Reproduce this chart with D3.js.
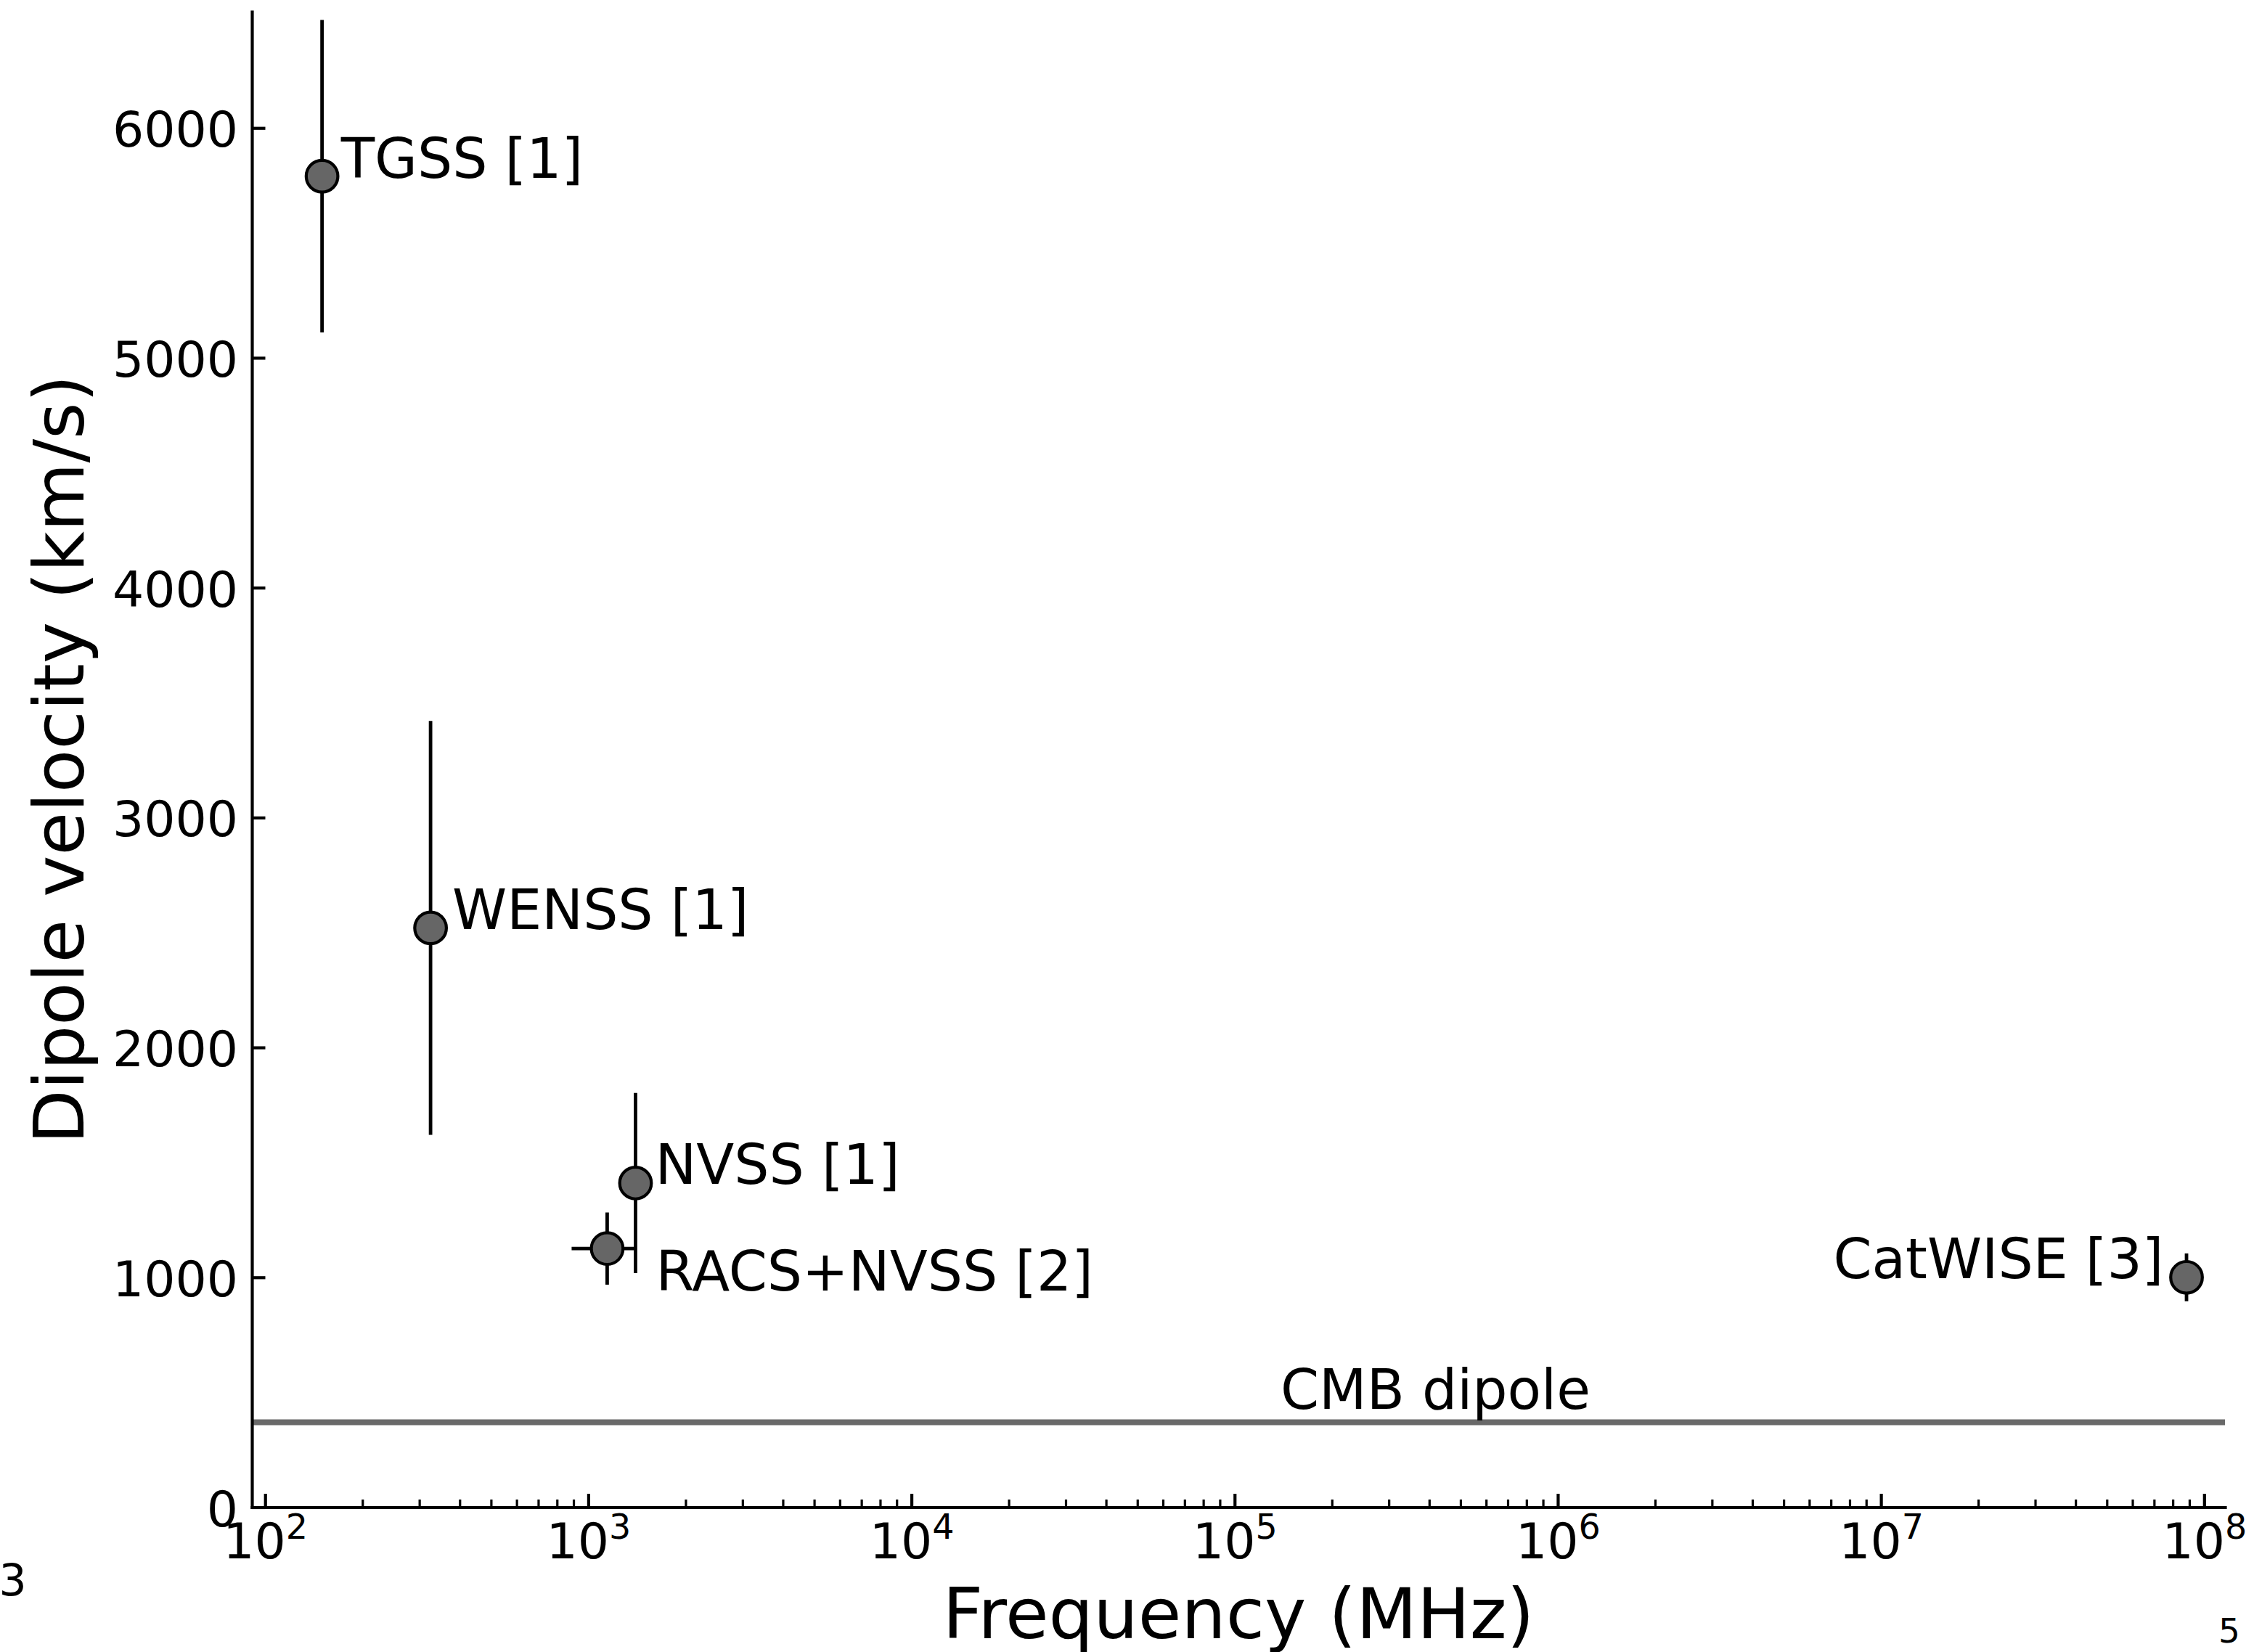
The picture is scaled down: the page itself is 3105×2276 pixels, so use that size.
<!DOCTYPE html>
<html>
<head>
<meta charset="utf-8">
<script src="https://cdn.jsdelivr.net/npm/d3@7"></script>
<style>
  body { margin: 0; background: #ffffff; }
  text { font-family: "DejaVu Sans", sans-serif; fill: #000000; }
</style>
</head>
<body>
<div id="chart"></div>
<script>
// Data
var surveyLabels = ["TGSS [1]", "WENSS [1]", "NVSS [1]", "RACS+NVSS [2]", "CatWISE [3]"];
var frequency = [150, 325, 1400, 1144, 8.82e7];      // MHz
var frequencyErr = [0, 0, 0, 256, 0];                 // MHz
var velocity = [5790, 2520, 1410, 1125, 1000];        // km/s
var velocityErr = [680, 900, 392, 157, 104];          // km/s
var cmbVelocity = 369.8;
var cmbLabel = "CMB dipole";

var xLimits = [91, 1.16e8];
var yLimits = [0, 6506];
var xTickExponents = [2, 3, 4, 5, 6, 7, 8];
var yTickValues = [0, 1000, 2000, 3000, 4000, 5000, 6000];

var svgWidth = 3105;
var svgHeight = 2276;

// axes frame in page pixels
var frame = { left: 347, right: 3065, top: 16, bottom: 2076.5 };

var svg = d3.select("#chart")
    .append("svg")
    .attr("width", svgWidth)
    .attr("height", svgHeight);

svg.append("rect")
    .attr("width", svgWidth)
    .attr("height", svgHeight)
    .attr("fill", "#ffffff");

var xScale = d3.scaleLog()
    .domain(xLimits)
    .range([frame.left, frame.right]);

var yScale = d3.scaleLinear()
    .domain(yLimits)
    .range([frame.bottom, frame.top]);

var tickFont = 68;
var supFont = 47.6;
var noteFont = 76;

// minor ticks on the log axis
var minorTicks = [];
xTickExponents.concat([1]).forEach(function(e) {
    for (var m = 2; m <= 9; m++) {
        var v = m * Math.pow(10, e);
        if (v > xLimits[0] && v < xLimits[1]) minorTicks.push(v);
    }
});

svg.append("g")
    .attr("transform", `translate(0, ${frame.bottom})`)
    .call(d3.axisBottom(xScale).tickValues(minorTicks).tickSize(-10.6).tickFormat(""))
    .call(g => g.select(".domain").remove())
    .call(g => g.selectAll(".tick line").attr("stroke", "#000").attr("stroke-width", 3.2));

// CMB dipole reference line
svg.append("line")
    .attr("x1", frame.left)
    .attr("x2", frame.right)
    .attr("y1", yScale(cmbVelocity))
    .attr("y2", yScale(cmbVelocity))
    .attr("stroke", "#696969")
    .attr("stroke-width", 8);

svg.append("text")
    .attr("x", 1764)
    .attr("y", yScale(cmbVelocity) - 18)
    .attr("font-size", noteFont)
    .text(cmbLabel);

// x axis (major)
var xAxisG = svg.append("g")
    .attr("transform", `translate(0, ${frame.bottom})`)
    .call(d3.axisBottom(xScale)
        .tickValues(xTickExponents.map(e => Math.pow(10, e)))
        .tickSize(-18.5)
        .tickSizeOuter(0));

xAxisG.select(".domain")
    .attr("stroke", "#000")
    .attr("stroke-width", 4.2)
    .attr("stroke-linecap", "square");
xAxisG.selectAll(".tick line").attr("stroke", "#000").attr("stroke-width", 4.2);
xAxisG.selectAll(".tick text")
    .text(null)
    .attr("y", 70.2)
    .attr("dy", 0)
    .attr("font-size", tickFont)
    .attr("font-family", "DejaVu Sans")
    .attr("fill", "#000")
    .each(function(d) {
        var t = d3.select(this);
        t.append("tspan").text("10");
        t.append("tspan")
            .attr("dy", -26.7)
            .attr("font-size", supFont)
            .text(Math.round(Math.log10(d)));
    });

// y axis
var yAxisG = svg.append("g")
    .attr("transform", `translate(${frame.left}, 0)`)
    .call(d3.axisLeft(yScale)
        .tickValues(yTickValues)
        .tickSize(-18.5)
        .tickSizeOuter(0)
        .tickPadding(19)
        .tickFormat(d3.format("d")));

yAxisG.select(".domain")
    .attr("stroke", "#000")
    .attr("stroke-width", 4.2)
    .attr("stroke-linecap", "square");
yAxisG.selectAll(".tick line").attr("stroke", "#000").attr("stroke-width", 4.2);
yAxisG.selectAll(".tick text")
    .attr("font-size", tickFont)
    .attr("font-family", "DejaVu Sans")
    .attr("fill", "#000")
    .attr("dy", "0.375em");

// data rows
var rows = surveyLabels.map(function(name, i) {
    return {
        name: name,
        f: frequency[i],
        fErr: frequencyErr[i],
        v: velocity[i],
        vErr: velocityErr[i]
    };
});

var errGroup = svg.append("g")
    .attr("stroke", "#000")
    .attr("stroke-width", 4.8);

errGroup.selectAll("line.verr")
    .data(rows)
    .enter()
    .append("line")
    .attr("class", "verr")
    .attr("x1", d => xScale(d.f))
    .attr("x2", d => xScale(d.f))
    .attr("y1", d => yScale(d.v - d.vErr))
    .attr("y2", d => yScale(d.v + d.vErr));

errGroup.selectAll("line.ferr")
    .data(rows.filter(d => d.fErr > 0))
    .enter()
    .append("line")
    .attr("class", "ferr")
    .attr("x1", d => xScale(d.f - d.fErr))
    .attr("x2", d => xScale(d.f + d.fErr))
    .attr("y1", d => yScale(d.v))
    .attr("y2", d => yScale(d.v));

svg.append("g")
    .selectAll("circle")
    .data(rows)
    .enter()
    .append("circle")
    .attr("cx", d => xScale(d.f))
    .attr("cy", d => yScale(d.v))
    .attr("r", 21.8)
    .attr("fill", "#666666")
    .attr("stroke", "#000")
    .attr("stroke-width", 4.2);

// annotation placement relative to each point (pixels)
var labelOffsets = {
    "TGSS [1]": { dx: 26, dy: 2, anchor: "start" },
    "WENSS [1]": { dx: 30, dy: 1.5, anchor: "start" },
    "NVSS [1]": { dx: 27, dy: 1.5, anchor: "start" },
    "RACS+NVSS [2]": { dx: 67, dy: 58, anchor: "start" },
    "CatWISE [3]": { dx: -31.5, dy: 1, anchor: "end" }
};

svg.append("g")
    .selectAll("text")
    .data(rows)
    .enter()
    .append("text")
    .attr("x", d => xScale(d.f) + labelOffsets[d.name].dx)
    .attr("y", d => yScale(d.v) + labelOffsets[d.name].dy)
    .attr("text-anchor", d => labelOffsets[d.name].anchor)
    .attr("font-size", noteFont)
    .text(d => d.name);

// axis titles
svg.append("text")
    .attr("transform", `translate(${(frame.left + frame.right) / 2}, 2257)`)
    .attr("text-anchor", "middle")
    .attr("font-size", 97)
    .text("Frequency (MHz)");

svg.append("text")
    .attr("transform", `translate(115, ${(frame.top + frame.bottom) / 2}) rotate(-90)`)
    .attr("text-anchor", "middle")
    .attr("font-size", 97)
    .text("Dipole velocity (km/s)");

// stray characters left at the figure edges
svg.append("text")
    .attr("x", -1.5)
    .attr("y", 2197.7)
    .attr("font-size", 60)
    .text("3");

svg.append("text")
    .attr("x", 3056)
    .attr("y", 2262.7)
    .attr("font-size", 47)
    .text("5");
</script>
</body>
</html>
